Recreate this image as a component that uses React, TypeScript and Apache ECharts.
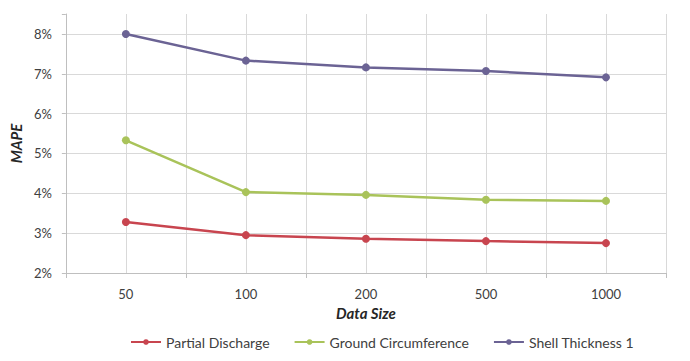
import React, { useEffect, useRef } from "react";
import * as echarts from "echarts";

const categories = ["50", "100", "200", "500", "1000"];
const partialDischarge = [3.28, 2.95, 2.86, 2.8, 2.75];
const groundCircumference = [5.33, 4.03, 3.96, 3.84, 3.81];
const shellThickness1 = [8.0, 7.33, 7.16, 7.07, 6.91];

const FONT = "Lato";

export default function App() {
  const ref = useRef<HTMLDivElement>(null);
  useEffect(() => {
    if (!ref.current) return;
    const chart = echarts.init(ref.current, undefined, { renderer: "svg" });
    const mk = (name: string, data: number[], color: string) => ({
      name,
      type: "line",
      data,
      xAxisIndex: 0,
      yAxisIndex: 0,
      symbol: "circle",
      symbolSize: 8,
      lineStyle: { width: 2.5, color },
      itemStyle: { color },
    });
    chart.setOption({
      animation: false,
      backgroundColor: "#ffffff",
      textStyle: { fontFamily: FONT },
      grid: { left: 58, right: 24, top: 14, bottom: 88, containLabel: false },
      legend: {
        top: 330,
        left: 125,
        itemWidth: 30,
        itemHeight: 7,
        itemGap: 24,
        textStyle: { fontFamily: FONT, fontSize: 14, color: "#404040" },
        data: ["Partial Discharge", "Ground Circumference", "Shell Thickness 1"],
      },
      xAxis: [
        {
          type: "category",
          data: categories,
          boundaryGap: true,
          name: "Data Size",
          nameLocation: "middle",
          nameGap: 32,
          nameTextStyle: { fontFamily: FONT, fontSize: 15, fontWeight: "bold", fontStyle: "italic", color: "#262626" },
          axisLine: { lineStyle: { color: "#bfbfbf", width: 1 } },
          axisTick: { show: true, length: 5, lineStyle: { color: "#bfbfbf" } },
          axisLabel: { fontFamily: FONT, fontSize: 13, color: "#404040", margin: 14 },
          splitLine: { show: false },
        },
        {
          type: "value",
          min: 0,
          max: 10,
          interval: 1,
          position: "bottom",
          axisLine: { show: false },
          axisTick: { show: false },
          axisLabel: { show: false },
          splitLine: { show: true, lineStyle: { color: "#d9d9d9", width: 1 } },
        },
      ],
      yAxis: {
        type: "value",
        min: 2,
        max: 8.5,
        interval: 1,
        name: "MAPE",
        nameLocation: "middle",
        nameGap: 38,
        nameRotate: 90,
        nameTextStyle: { fontFamily: FONT, fontSize: 15, fontWeight: "bold", fontStyle: "italic", color: "#262626" },
        axisLine: { show: true, lineStyle: { color: "#bfbfbf", width: 1 } },
        axisTick: { show: true, length: 4, lineStyle: { color: "#bfbfbf" } },
        axisLabel: {
          fontFamily: FONT,
          fontSize: 13,
          color: "#404040",
          margin: 14,
          formatter: (v: number) => (Number.isInteger(v) ? v + "%" : ""),
        },
        splitLine: { show: true, showMaxLine: false, lineStyle: { color: "#d9d9d9", width: 1 } },
      },
      series: [
        mk("Partial Discharge", partialDischarge, "#c8454f"),
        mk("Ground Circumference", groundCircumference, "#a9c35a"),
        mk("Shell Thickness 1", shellThickness1, "#6b6394"),
      ],
    });
    return () => chart.dispose();
  }, []);
  return <div ref={ref} style={{ width: 690, height: 361, position: "absolute", left: 0, top: 0 }} />;
}
